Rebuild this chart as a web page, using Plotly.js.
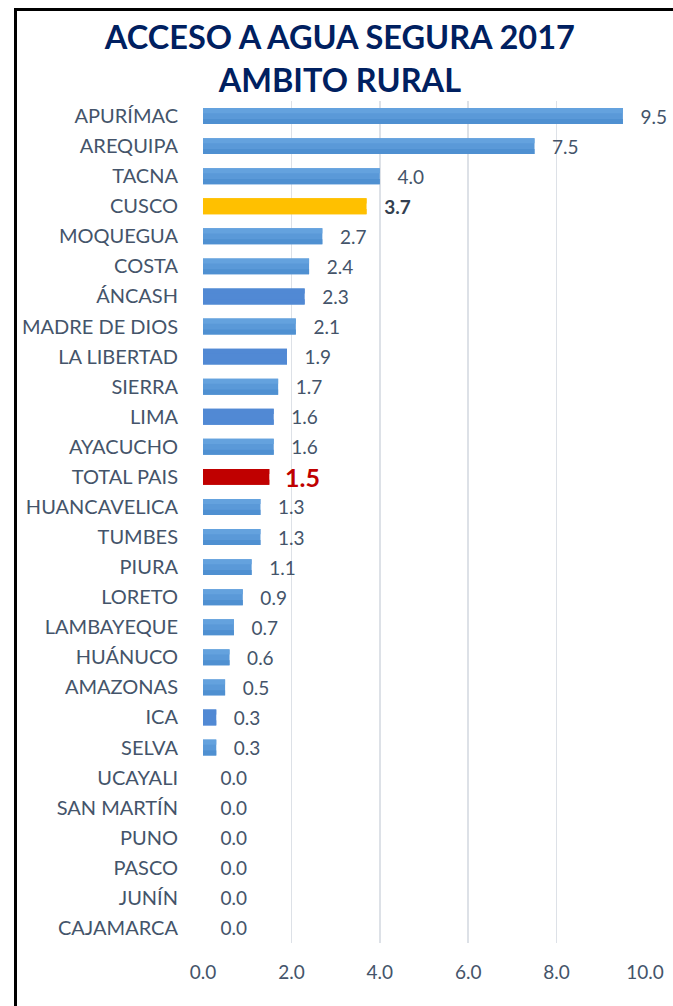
<!DOCTYPE html>
<html><head><meta charset="utf-8">
<script src="https://cdn.plot.ly/plotly-3.0.1.min.js"></script>
<style>
html,body{margin:0;padding:0;background:#fff;}
#wrap{position:relative;width:673px;height:1006px;overflow:hidden;}
#chart{position:absolute;left:0;top:0;width:673px;height:1006px;}
#frame{position:absolute;left:14px;top:8px;width:700px;height:1100px;border-left:3px solid #000;border-top:3px solid #000;pointer-events:none;}
</style></head>
<body>
<div id="wrap"><div id="chart"></div><div id="frame"></div></div>
<script>
const categories = ["APURÍMAC","AREQUIPA","TACNA","CUSCO","MOQUEGUA","COSTA","ÁNCASH","MADRE DE DIOS","LA LIBERTAD","SIERRA","LIMA","AYACUCHO","TOTAL PAIS","HUANCAVELICA","TUMBES","PIURA","LORETO","LAMBAYEQUE","HUÁNUCO","AMAZONAS","ICA","SELVA","UCAYALI","SAN MARTÍN","PUNO","PASCO","JUNÍN","CAJAMARCA"];
const values = [9.5,7.5,4.0,3.7,2.7,2.4,2.3,2.1,1.9,1.7,1.6,1.6,1.5,1.3,1.3,1.1,0.9,0.7,0.6,0.5,0.3,0.3,0.0,0.0,0.0,0.0,0.0,0.0];
const tickVals = [0,2,4,6,8,10];
const tickText = ["0.0","2.0","4.0","6.0","8.0","10.0"];
const solidCats = ["ÁNCASH","LA LIBERTAD","LIMA","ICA"];

function colorFor(c, grad) {
  if (c === "CUSCO") return "#ffc000";
  if (c === "TOTAL PAIS") return "#c00000";
  if (solidCats.includes(c)) return "#5189d4";
  return grad;
}
const baseColors = categories.map(c => colorFor(c, "#5a99d8"));
const topColors = categories.map(c => colorFor(c, "#64a2de"));
const botColors = categories.map(c => colorFor(c, "#4f90d1"));
const texts = categories.map((c,i) => {
  const v = values[i].toFixed(1);
  if (c === "TOTAL PAIS") return "\u00a0\u00a0<b>" + v + "</b>";
  if (c === "CUSCO") return "\u00a0\u00a0\u00a0<b>" + v + "</b>";
  return "\u00a0\u00a0\u00a0" + v;
});
const tColors = categories.map(c => c === "TOTAL PAIS" ? "#c00000" : c === "CUSCO" ? "#333f50" : "#44546a");
const tSizes = categories.map(c => c === "TOTAL PAIS" ? 25 : 19);
const FONT = "Lato, sans-serif";

Plotly.newPlot("chart", [{
  type: "bar", orientation: "h",
  x: values, y: categories,
  width: 0.53, offset: -0.265,
  marker: {color: baseColors},
  text: texts, textposition: "outside", cliponaxis: false, constraintext: "none",
  textfont: {family: FONT, color: tColors, size: tSizes},
  hoverinfo: "none"
}, {
  type: "bar", orientation: "h",
  x: values, y: categories,
  width: 0.17, offset: -0.265,
  marker: {color: topColors},
  hoverinfo: "none"
}, {
  type: "bar", orientation: "h",
  x: values, y: categories,
  width: 0.17, offset: 0.095,
  marker: {color: botColors},
  hoverinfo: "none"
}], {
  width: 673, height: 1006,
  paper_bgcolor: "#ffffff", plot_bgcolor: "#ffffff",
  margin: {l: 203, r: 28, t: 101, b: 63},
  barmode: "overlay",
  title: {
    text: "<b>ACCESO A AGUA SEGURA 2017<br>AMBITO RURAL</b>",
    font: {family: FONT, size: 32.5, color: "#002060"},
    x: 0.505, xanchor: "center", y: 0.951, yanchor: "middle"
  },
  showlegend: false,
  xaxis: {
    range: [0, 10], tickvals: tickVals, ticktext: tickText,
    showgrid: true, gridcolor: "#dde1e7", gridwidth: 1.5, zeroline: false,
    showline: false, ticks: "", ticklabelstandoff: 16,
    tickfont: {family: FONT, size: 19, color: "#44546a"},
    fixedrange: true
  },
  yaxis: {
    type: "category", categoryorder: "array", categoryarray: categories,
    autorange: "reversed", showgrid: false, zeroline: false, showline: false,
    ticks: "", ticklabelstandoff: 24,
    tickfont: {family: FONT, size: 20, color: "#44546a"},
    fixedrange: true
  }
}, {displayModeBar: false, staticPlot: true});
</script>
</body></html>
